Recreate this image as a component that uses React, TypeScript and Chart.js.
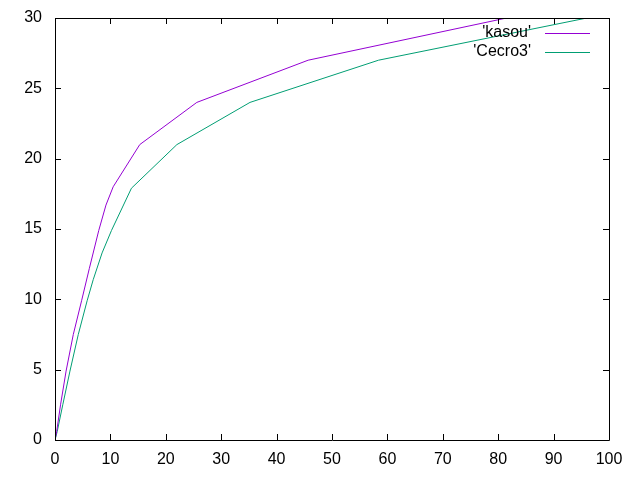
import React, { useEffect, useRef } from "react";
import { Chart, registerables } from "chart.js";

Chart.register(...registerables);

const kasouX = [0, 0.3, 1, 2, 3.3, 4.8, 6.2, 7.9, 9.2, 10.5, 15.3, 25.6, 45.7, 81.5];
const kasouY = [0, 0.6, 2.5, 4.9, 7.5, 9.9, 12.2, 14.9, 16.7, 18, 21, 24, 27, 30];
const cecroX = [0, 0.4, 1.4, 2.7, 4.2, 5.8, 6.9, 8.5, 10.2, 13.8, 22, 35.2, 58.4, 96];
const cecroY = [0, 0.6, 2.5, 4.9, 7.5, 9.9, 11.4, 13.3, 14.9, 17.9, 21, 24, 27, 30];
const seriesNames = ["'kasou'", "'Cecro3'"];
const seriesColors = ["#9400d3", "#009e73"];
const xTicks = [0, 10, 20, 30, 40, 50, 60, 70, 80, 90, 100];
const yTicks = [0, 5, 10, 15, 20, 25, 30];

const FONT = "'Liberation Sans', Arial, sans-serif";

const framePlugin = {
  id: "gnuFrame",
  afterDatasetsDraw(chart: any) {
    const { ctx, chartArea: a, scales } = chart;
    const xs = scales.x;
    const ys = scales.y;
    ctx.save();
    ctx.strokeStyle = "#000";
    ctx.lineWidth = 1;
    ctx.beginPath();
    ctx.rect(Math.round(a.left) + 0.5, Math.round(a.top) + 0.5, Math.round(a.right - a.left), Math.round(a.bottom - a.top));
    ctx.stroke();
    const tl = 6;
    ctx.beginPath();
    xTicks.forEach((v) => {
      const px = Math.round(xs.getPixelForValue(v)) + 0.5;
      ctx.moveTo(px, a.bottom);
      ctx.lineTo(px, a.bottom - tl);
      ctx.moveTo(px, a.top);
      ctx.lineTo(px, a.top + tl);
    });
    yTicks.forEach((v) => {
      const py = Math.round(ys.getPixelForValue(v)) + 0.5;
      ctx.moveTo(a.left, py);
      ctx.lineTo(a.left + tl, py);
      ctx.moveTo(a.right, py);
      ctx.lineTo(a.right - tl, py);
    });
    ctx.stroke();
    // legend
    ctx.font = "16px " + FONT;
    ctx.textAlign = "right";
    ctx.textBaseline = "middle";
    seriesNames.forEach((n, i) => {
      const y = 33 + i * 19;
      ctx.fillStyle = "#000";
      ctx.fillText(n, 531, y);
      ctx.strokeStyle = seriesColors[i];
      ctx.beginPath();
      ctx.moveTo(545, y + 0.5);
      ctx.lineTo(590, y + 0.5);
      ctx.stroke();
    });
    ctx.restore();
  },
};

export default function App() {
  const ref = useRef<HTMLCanvasElement>(null);
  useEffect(() => {
    if (!ref.current) return;
    const toPts = (xs: number[], ys: number[]) => xs.map((x, i) => ({ x, y: ys[i] }));
    const chart = new Chart(ref.current, {
      type: "line",
      data: {
        datasets: [
          {
            label: seriesNames[0],
            data: toPts(kasouX, kasouY),
            borderColor: seriesColors[0],
            borderWidth: 1,
            pointRadius: 0,
            fill: false,
            tension: 0,
          },
          {
            label: seriesNames[1],
            data: toPts(cecroX, cecroY),
            borderColor: seriesColors[1],
            borderWidth: 1,
            pointRadius: 0,
            fill: false,
            tension: 0,
          },
        ],
      },
      options: {
        animation: false,
        responsive: false,
        devicePixelRatio: 1,
        layout: { padding: { top: 18, right: 31, left: 0, bottom: 0 } },
        plugins: { legend: { display: false }, tooltip: { enabled: false } },
        scales: {
          x: {
            type: "linear",
            min: 0,
            max: 100,
            afterBuildTicks: (s: any) => {
              s.ticks = xTicks.map((v) => ({ value: v }));
            },
            afterFit: (s: any) => {
              s.height = 40;
              s.paddingLeft = 0;
              s.paddingRight = 0;
            },
            grid: { display: false, drawTicks: false },
            border: { display: false },
            ticks: { color: "#000", font: { family: FONT, size: 16 }, padding: 10, maxRotation: 0, autoSkip: false },
          },
          y: {
            type: "linear",
            min: 0,
            max: 30,
            afterBuildTicks: (s: any) => {
              s.ticks = yTicks.map((v) => ({ value: v }));
            },
            afterFit: (s: any) => {
              s.width = 55;
              s.paddingTop = 0;
              s.paddingBottom = 0;
            },
            grid: { display: false, drawTicks: false },
            border: { display: false },
            ticks: { color: "#000", font: { family: FONT, size: 16 }, padding: 13, autoSkip: false },
          },
        },
      },
      plugins: [framePlugin],
    });
    return () => chart.destroy();
  }, []);
  return (
    <div style={{ position: "fixed", left: 0, top: 0, width: 640, height: 480, background: "#fff" }}>
      <canvas ref={ref} width={640} height={480} style={{ width: 640, height: 480 }} />
    </div>
  );
}
